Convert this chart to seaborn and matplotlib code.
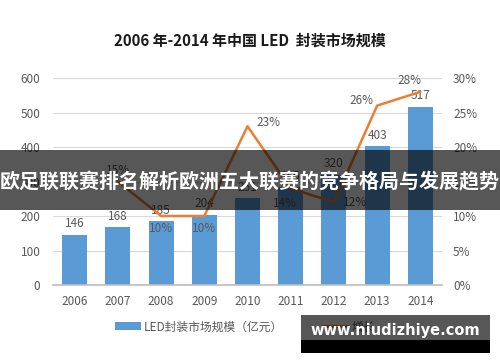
import numpy as np
import pandas as pd
import matplotlib.pyplot as plt
import seaborn as sns
from matplotlib.patches import Rectangle, Patch
from matplotlib.lines import Line2D
from matplotlib.ticker import FuncFormatter

# Data
years = ["2006", "2007", "2008", "2009", "2010", "2011", "2012", "2013", "2014"]
market_size = [146, 168, 185, 204, 251, 285, 320, 403, 517]   # 亿元
growth = [15, 10, 10, 23, 14, 12, 26, 28]                      # %, 2007-2014

# label offsets for growth labels (points)
growth_offsets = [(0, 8), (0, -9), (0, -9), (15, 3), (-4, -11), (15, 0), (-11, 4), (-8, 8)]

sns.set_theme(style="white")
plt.rcParams["font.family"] = ["Noto Sans CJK SC", "DejaVu Sans"]

blue = "#5B9BD5"
orange = "#ED7D31"
grey = "#595959"
fs = 8.5

df = pd.DataFrame({"year": years, "size": market_size})

fig = plt.figure(figsize=(5, 3.62), dpi=100)
ax = fig.add_axes([0.106, 0.2127, 0.778, 0.5718])

sns.barplot(data=df, x="year", y="size", color=blue, width=0.58, ax=ax,
            saturation=1, edgecolor="none")
ax.set_ylim(0, 600)
ax.set_yticks(range(0, 601, 100))
ax.yaxis.grid(True, color="#D9D9D9", linewidth=0.8)
ax.set_axisbelow(True)
ax.set_xlabel("")
ax.set_ylabel("")
for s in ["left", "right", "top"]:
    ax.spines[s].set_visible(False)
ax.spines["bottom"].set_color("#BFBFBF")
ax.tick_params(axis="both", colors=grey, labelsize=fs, length=0)
ax.tick_params(axis="y", pad=9)
ax.set_xticks(np.arange(-0.5, len(years)), minor=True)
ax.tick_params(axis="x", which="minor", length=4, color="#BFBFBF", direction="out")
ax.tick_params(axis="x", pad=7)

for i, v in enumerate(market_size):
    ax.annotate(str(v), (i, v), xytext=(0, 3), textcoords="offset points",
                ha="center", va="bottom", fontsize=fs, color=grey)

ax2 = ax.twinx()
xpos = np.arange(1, len(years))
sns.lineplot(x=xpos, y=growth, color=orange, linewidth=1.8, ax=ax2)
ax2.set_ylim(0, 30)
ax2.set_xlim(-0.5, len(years) - 0.5)
ax2.set_yticks(range(0, 31, 5))
ax2.yaxis.set_major_formatter(FuncFormatter(lambda v, p: f"{int(v)}%"))
for s in ["left", "right", "top", "bottom"]:
    ax2.spines[s].set_visible(False)
ax2.tick_params(axis="y", colors=grey, labelsize=fs, length=0, pad=8)
for x, g, off in zip(xpos, growth, growth_offsets):
    ax2.annotate(f"{g}%", (x, g), xytext=off, textcoords="offset points",
                 ha="center", va="center", fontsize=fs, color=grey)

fig.text(0.5, 0.888, "2006 年-2014 年中国 LED  封装市场规模", ha="center", va="center",
         fontsize=10.8, fontweight="bold", color="#1a1a1a")

handles = [Patch(facecolor=blue, edgecolor="none"),
           Line2D([0], [0], color=orange, linewidth=2)]
fig.legend(handles, ["LED封装市场规模（亿元）", "增长"], loc="center",
           bbox_to_anchor=(0.49, 0.097), ncol=2, frameon=False, fontsize=fs,
           labelcolor=grey, columnspacing=3.3, handlelength=2.2, handleheight=0.6,
           handletextpad=0.3)

# overlay banner and watermark box
fig.patches.append(Rectangle((0, 1 - 210 / 362), 1, 60 / 362, transform=fig.transFigure,
                             facecolor="black", alpha=0.66, edgecolor="none", zorder=10))
fig.text(0.5, 1 - 182 / 362, "欧足联联赛排名解析欧洲五大联赛的竞争格局与发展趋势",
         ha="center", va="center", fontsize=14.4, fontweight="bold", color="white", zorder=11)
fig.patches.append(Rectangle((301 / 500, 1 - 340 / 362), 189 / 500, 25 / 362,
                             transform=fig.transFigure, facecolor="black", alpha=0.66,
                             edgecolor="none", zorder=10))
fig.patches.append(Rectangle((301 / 500, 1 - 353 / 362), 189 / 500, 13 / 362,
                             transform=fig.transFigure, facecolor="black",
                             edgecolor="none", zorder=10))
fig.text(395 / 500, 1 - 331 / 362, "www.niudizhiye.com", ha="center", va="center",
         fontsize=10.5, fontweight="bold", color="white", family="DejaVu Sans", zorder=11)

fig.savefig("out.png", dpi=100)
